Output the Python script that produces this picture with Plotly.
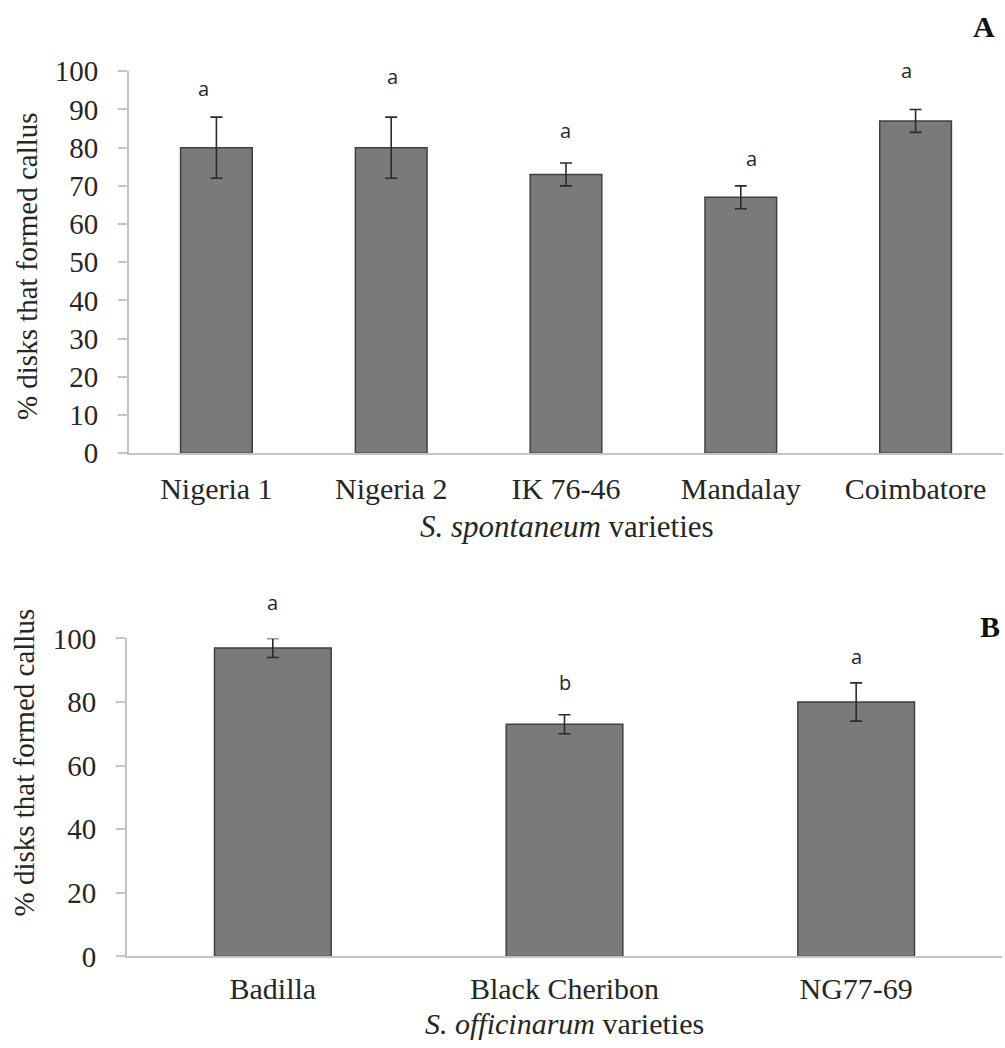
import plotly.graph_objects as go

W, H = 1005, 1048

# Panel A data
cats_a = ["Nigeria 1", "Nigeria 2", "IK 76-46", "Mandalay", "Coimbatore"]
vals_a = [80, 80, 73, 67, 87]
err_a = [8, 8, 3, 3, 3]
letters_a = ["a", "a", "a", "a", "a"]
letter_y_a = [95.5, 98.7, 84.6, 77.2, 100.1]
letter_dx_a = [-13, 1, -1, 11, -9]

# Panel B data
cats_b = ["Badilla", "Black Cheribon", "NG77-69"]
vals_b = [97, 73, 80]
err_b = [3, 3, 6]
letters_b = ["a", "b", "a"]
letter_y_b = [111.3, 86.2, 94.3]
letter_dx_b = [0, 0, 0]

yrange_a = [0, 100]
yrange_b = [0, 100]
yticks_a = list(range(0, 101, 10))
yticks_b = list(range(0, 101, 20))

BAR = "#7a7a7a"
EDGE = "#404040"
AXC = "#c4c4c4"
TXT = "#262626"
SERIF = "Liberation Serif, Times New Roman, serif"
SANS = "Open Sans, DejaVu Sans, sans-serif"

fig = go.Figure()
fig.add_trace(go.Bar(
    x=cats_a, y=vals_a, xaxis="x", yaxis="y", width=0.41,
    marker=dict(color=BAR, line=dict(color=EDGE, width=1.5)),
    error_y=dict(type="data", array=err_a, visible=True, color="#2b2b2b", thickness=1.6, width=6),
    showlegend=False, hoverinfo="skip",
))
fig.add_trace(go.Bar(
    x=cats_b, y=vals_b, xaxis="x2", yaxis="y2", width=0.40,
    marker=dict(color=BAR, line=dict(color=EDGE, width=1.5)),
    error_y=dict(type="data", array=err_b, visible=True, color="#2b2b2b", thickness=1.6, width=6),
    showlegend=False, hoverinfo="skip",
))

def px_x(p):
    return p / W

def px_y(p):
    return 1 - p / H

axis_common = dict(showgrid=False, zeroline=False, showline=True, linecolor=AXC, linewidth=2)
ytick_font = dict(family=SERIF, size=29, color=TXT)
xtick_font = dict(family=SERIF, size=30, color=TXT)

fig.update_layout(
    width=W, height=H,
    margin=dict(l=0, r=0, t=0, b=0),
    paper_bgcolor="white", plot_bgcolor="white",
    xaxis=dict(domain=[px_x(129), px_x(1003)], anchor="y", ticks="", ticklabelstandoff=8,
               tickfont=xtick_font, **axis_common),
    yaxis=dict(domain=[px_y(451), px_y(57)], anchor="x", range=yrange_a, tickvals=yticks_a,
               ticks="outside", ticklen=9, tickcolor=AXC, tickwidth=1.5, ticklabelstandoff=14,
               tickfont=ytick_font, **axis_common),
    xaxis2=dict(domain=[px_x(127), px_x(1002)], anchor="y2", ticks="", ticklabelstandoff=5,
                tickfont=xtick_font, **axis_common),
    yaxis2=dict(domain=[px_y(970), px_y(642)], anchor="x2", range=yrange_b, tickvals=yticks_b,
                ticks="outside", ticklen=9, tickcolor=AXC, tickwidth=1.5, ticklabelstandoff=14,
                tickfont=ytick_font, **axis_common),
)

ann = []
# significance letters: x on the category axis, y converted from data value to axis-domain fraction
for c, v, t, dx in zip(cats_a, letter_y_a, letters_a, letter_dx_a):
    ann.append(dict(x=c, xref="x", y=(v - yrange_a[0]) / (yrange_a[1] - yrange_a[0]), yref="y domain",
                    text=t, showarrow=False, xshift=dx, xanchor="center", yanchor="middle",
                    font=dict(family=SANS, size=20, color=TXT)))
for c, v, t, dx in zip(cats_b, letter_y_b, letters_b, letter_dx_b):
    ann.append(dict(x=c, xref="x2", y=(v - yrange_b[0]) / (yrange_b[1] - yrange_b[0]), yref="y2 domain",
                    text=t, showarrow=False, xshift=dx, xanchor="center", yanchor="middle",
                    font=dict(family=SANS, size=20, color=TXT)))

def add_text(x, y, text, size=29, angle=0, color=TXT):
    ann.append(dict(x=px_x(x), y=px_y(y), xref="paper", yref="paper", text=text, textangle=angle,
                    xanchor="center", yanchor="middle", showarrow=False,
                    font=dict(family=SERIF, size=size, color=color)))

add_text(27, 258, "% disks that formed callus", angle=-90)
add_text(24, 770, "% disks that formed callus", angle=-90)
add_text(567, 527, "<i>S. spontaneum</i> varieties", size=31)
add_text(564, 1039, "<i>S. officinarum</i> varieties", size=30)
add_text(984, 11, "<b>A</b>", size=30, color="#111")
add_text(990, 630, "<b>B</b>", size=30, color="#111")

fig.update_layout(annotations=ann)
fig.write_html(
    "out.html",
    config={"responsive": False, "displayModeBar": False},
    post_script="document.body.style.margin='0';document.body.style.overflow='hidden';",
)
